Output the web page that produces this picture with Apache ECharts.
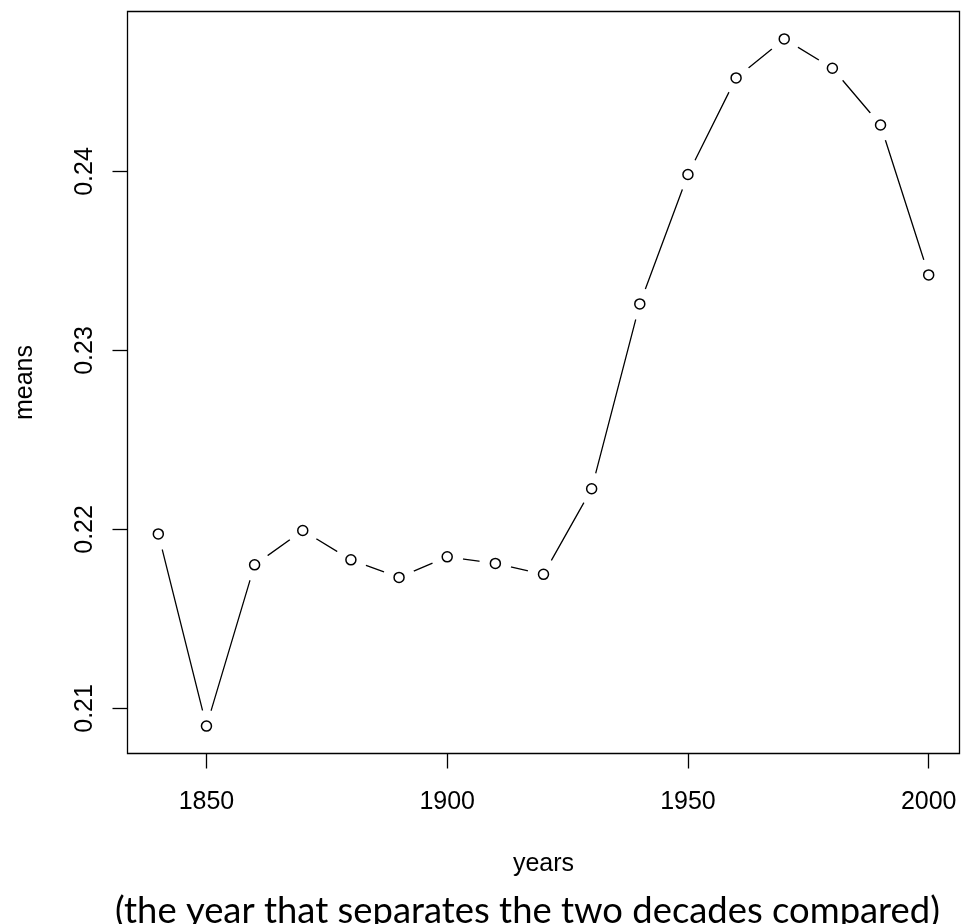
<!DOCTYPE html>
<html>
<head>
<meta charset="utf-8">
<title>means by year</title>
<script src="https://cdn.jsdelivr.net/npm/echarts@6/dist/echarts.min.js"></script>
<style>
  html, body { margin: 0; padding: 0; background: #fff; }
  #main { width: 963px; height: 924px; }
</style>
</head>
<body>
<div id="main"></div>
<script>
// decade boundary years and the means
var years = [1840, 1850, 1860, 1870, 1880, 1890, 1900, 1910, 1920, 1930, 1940, 1950, 1960, 1970, 1980, 1990, 2000];
var means = [0.21975, 0.20901, 0.21802, 0.21994, 0.21830, 0.21732, 0.21847, 0.21810, 0.21749, 0.22227, 0.23260, 0.23983, 0.24523, 0.24741, 0.24577, 0.24260, 0.23422];

// tick positions
var xTicks = [1850, 1900, 1950, 2000];
var yTicks = [0.21, 0.22, 0.23, 0.24];

var points = years.map(function (y, i) { return [y, means[i]]; });

var chart = echarts.init(document.getElementById('main'), null, { renderer: 'canvas' });

var labelFont = {
  color: '#000',
  fontFamily: 'Liberation Sans, Arial, sans-serif',
  fontSize: 25
};

var option = {
  backgroundColor: '#fff',
  animation: false,
  grid: {
    left: 127.5,
    right: 3.5,
    top: 11.5,
    bottom: 170.5,
    show: true,
    borderColor: '#000',
    borderWidth: 1.3,
    outerBoundsMode: 'none'
  },
  xAxis: {
    type: 'value',
    min: 1833.6,
    max: 2006.4,
    name: 'years',
    nameLocation: 'middle',
    nameGap: 98,
    nameTextStyle: labelFont,
    axisLine: { show: false },
    splitLine: { show: false },
    axisTick: {
      show: true,
      inside: false,
      length: 15,
      customValues: xTicks,
      lineStyle: { color: '#000', width: 1.3 }
    },
    axisLabel: Object.assign({
      margin: 36,
      customValues: xTicks,
      formatter: function (v) { return String(v); }
    }, labelFont)
  },
  yAxis: {
    type: 'value',
    min: 0.20748,
    max: 0.24894,
    name: 'means',
    nameLocation: 'middle',
    nameGap: 90,
    nameRotate: 90,
    nameTextStyle: labelFont,
    axisLine: { show: false },
    splitLine: { show: false },
    axisTick: {
      show: true,
      inside: false,
      length: 15,
      customValues: yTicks,
      lineStyle: { color: '#000', width: 1.3 }
    },
    axisLabel: Object.assign({
      margin: 30,
      rotate: 90,
      customValues: yTicks,
      formatter: function (v) { return v.toFixed(2); }
    }, labelFont)
  },
  graphic: [{
    type: 'text',
    left: 115,
    top: 893,
    style: {
      text: '(the year that separates the two decades compared)',
      fill: '#000',
      font: '36.4px Lato, "Open Sans", sans-serif'
    }
  }],
  series: [
    {
      // connecting line
      type: 'line',
      data: points,
      showSymbol: false,
      lineStyle: { color: '#000', width: 1.3 },
      z: 1,
      silent: true
    },
    {
      // white gap around each point, like R type = "b"
      type: 'scatter',
      data: points,
      symbol: 'circle',
      symbolSize: 32,
      itemStyle: { color: '#fff', opacity: 1 },
      z: 2,
      silent: true
    },
    {
      // open circle markers
      type: 'scatter',
      data: points,
      symbol: 'circle',
      symbolSize: 10,
      itemStyle: { color: '#fff', borderColor: '#000', borderWidth: 1.5, opacity: 1 },
      z: 3
    }
  ]
};

chart.setOption(option);
</script>
</body>
</html>
